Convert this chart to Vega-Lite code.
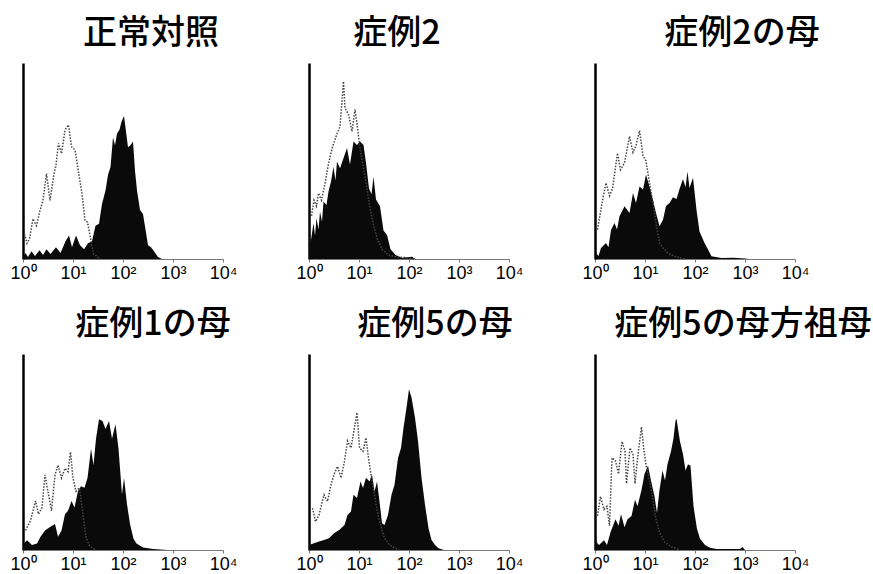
{
"$schema": "https://vega.github.io/schema/vega-lite/v6.json",
"padding": {"left": 9, "top": 17, "right": 5, "bottom": 5},
"background": "white",
"config": {
  "view": {"stroke": null},
  "font": "Liberation Sans",
  "title": {"font": "Noto Sans CJK JP", "fontSize": 34, "fontWeight": 500, "color": "#000", "anchor": "middle", "frame": "group", "offset": 12},
  "axisX": {"domainColor": "#777", "domainWidth": 1, "tickColor": "#777", "tickSize": 3, "labelFont": "Liberation Sans", "labelFontSize": 18, "labelColor": "#000", "labelPadding": 2, "grid": false, "title": null, "values": [0, 1, 2, 3, 4], "labelFlush": false, "labelExpr": "'10' + ['⁰','¹','²','³','⁴'][datum.value]"},
  "axisY": {"domainColor": "#000", "domainWidth": 2.5, "ticks": false, "labels": false, "grid": false, "title": null}
},
"datasets": {
"h": [
{"p":1,"s":"f","x":0,"y":1},{"p":1,"s":"f","x":0.05,"y":3},{"p":1,"s":"f","x":0.1,"y":1},{"p":1,"s":"f","x":0.17,"y":4},{"p":1,"s":"f","x":0.24,"y":1.5},{"p":1,"s":"f","x":0.33,"y":4.5},{"p":1,"s":"f","x":0.4,"y":2},{"p":1,"s":"f","x":0.47,"y":5},{"p":1,"s":"f","x":0.55,"y":2.5},{"p":1,"s":"f","x":0.66,"y":6},{"p":1,"s":"f","x":0.75,"y":3},{"p":1,"s":"f","x":0.85,"y":9},{"p":1,"s":"f","x":0.92,"y":12},{"p":1,"s":"f","x":0.98,"y":6},{"p":1,"s":"f","x":1.06,"y":12},{"p":1,"s":"f","x":1.14,"y":7},{"p":1,"s":"f","x":1.22,"y":5},{"p":1,"s":"f","x":1.3,"y":8},{"p":1,"s":"f","x":1.38,"y":9},{"p":1,"s":"f","x":1.45,"y":17},{"p":1,"s":"f","x":1.52,"y":18},{"p":1,"s":"f","x":1.58,"y":28},{"p":1,"s":"f","x":1.65,"y":35},{"p":1,"s":"f","x":1.7,"y":43},{"p":1,"s":"f","x":1.75,"y":47},{"p":1,"s":"f","x":1.8,"y":62},{"p":1,"s":"f","x":1.84,"y":58},{"p":1,"s":"f","x":1.88,"y":64},{"p":1,"s":"f","x":1.93,"y":66},{"p":1,"s":"f","x":1.97,"y":70},{"p":1,"s":"f","x":2.02,"y":73},{"p":1,"s":"f","x":2.06,"y":65},{"p":1,"s":"f","x":2.1,"y":57},{"p":1,"s":"f","x":2.15,"y":58},{"p":1,"s":"f","x":2.2,"y":60},{"p":1,"s":"f","x":2.24,"y":45},{"p":1,"s":"f","x":2.28,"y":35},{"p":1,"s":"f","x":2.34,"y":25},{"p":1,"s":"f","x":2.4,"y":23},{"p":1,"s":"f","x":2.45,"y":15},{"p":1,"s":"f","x":2.5,"y":7},{"p":1,"s":"f","x":2.56,"y":6},{"p":1,"s":"f","x":2.62,"y":4},{"p":1,"s":"f","x":2.7,"y":1},{"p":1,"s":"f","x":2.78,"y":0},
{"p":1,"s":"c","x":0.03,"y":12.8},{"p":1,"s":"c","x":0.08,"y":8},{"p":1,"s":"c","x":0.13,"y":10.3},{"p":1,"s":"c","x":0.2,"y":20.5},{"p":1,"s":"c","x":0.27,"y":17},{"p":1,"s":"c","x":0.34,"y":24.8},{"p":1,"s":"c","x":0.4,"y":30},{"p":1,"s":"c","x":0.47,"y":43.6},{"p":1,"s":"c","x":0.54,"y":29.9},{"p":1,"s":"c","x":0.61,"y":41.9},{"p":1,"s":"c","x":0.66,"y":48},{"p":1,"s":"c","x":0.71,"y":59},{"p":1,"s":"c","x":0.77,"y":53.8},{"p":1,"s":"c","x":0.84,"y":65.8},{"p":1,"s":"c","x":0.91,"y":68.4},{"p":1,"s":"c","x":0.97,"y":57.3},{"p":1,"s":"c","x":1.04,"y":55.6},{"p":1,"s":"c","x":1.11,"y":44.4},{"p":1,"s":"c","x":1.18,"y":33.3},{"p":1,"s":"c","x":1.24,"y":19.7},{"p":1,"s":"c","x":1.29,"y":18.8},{"p":1,"s":"c","x":1.34,"y":12},{"p":1,"s":"c","x":1.41,"y":2.6},{"p":1,"s":"c","x":1.55,"y":0},
{"p":2,"s":"f","x":0,"y":33},{"p":2,"s":"f","x":0.03,"y":8},{"p":2,"s":"f","x":0.09,"y":18.2},{"p":2,"s":"f","x":0.12,"y":12},{"p":2,"s":"f","x":0.15,"y":20.8},{"p":2,"s":"f","x":0.19,"y":15},{"p":2,"s":"f","x":0.22,"y":24.2},{"p":2,"s":"f","x":0.26,"y":19},{"p":2,"s":"f","x":0.29,"y":29.3},{"p":2,"s":"f","x":0.35,"y":27.6},{"p":2,"s":"f","x":0.39,"y":34.4},{"p":2,"s":"f","x":0.44,"y":39.5},{"p":2,"s":"f","x":0.49,"y":47.1},{"p":2,"s":"f","x":0.53,"y":40},{"p":2,"s":"f","x":0.56,"y":49.7},{"p":2,"s":"f","x":0.62,"y":46.3},{"p":2,"s":"f","x":0.69,"y":51.4},{"p":2,"s":"f","x":0.76,"y":56.6},{"p":2,"s":"f","x":0.82,"y":48.2},{"p":2,"s":"f","x":0.89,"y":59.9},{"p":2,"s":"f","x":0.96,"y":58.2},{"p":2,"s":"f","x":1.02,"y":59.9},{"p":2,"s":"f","x":1.09,"y":58.2},{"p":2,"s":"f","x":1.14,"y":49},{"p":2,"s":"f","x":1.2,"y":36},{"p":2,"s":"f","x":1.25,"y":33},{"p":2,"s":"f","x":1.29,"y":42},{"p":2,"s":"f","x":1.34,"y":30.3},{"p":2,"s":"f","x":1.42,"y":26.9},{"p":2,"s":"f","x":1.49,"y":14.6},{"p":2,"s":"f","x":1.56,"y":12.2},{"p":2,"s":"f","x":1.63,"y":5},{"p":2,"s":"f","x":1.73,"y":2},{"p":2,"s":"f","x":1.86,"y":0.7},{"p":2,"s":"f","x":2.06,"y":1.2},{"p":2,"s":"f","x":2.13,"y":0},
{"p":2,"s":"c","x":0.05,"y":22},{"p":2,"s":"c","x":0.1,"y":30},{"p":2,"s":"c","x":0.15,"y":27},{"p":2,"s":"c","x":0.19,"y":33.6},{"p":2,"s":"c","x":0.25,"y":30},{"p":2,"s":"c","x":0.32,"y":38.5},{"p":2,"s":"c","x":0.39,"y":48.6},{"p":2,"s":"c","x":0.47,"y":57.2},{"p":2,"s":"c","x":0.56,"y":64},{"p":2,"s":"c","x":0.62,"y":67.5},{"p":2,"s":"c","x":0.69,"y":90.6},{"p":2,"s":"c","x":0.72,"y":77},{"p":2,"s":"c","x":0.79,"y":73.8},{"p":2,"s":"c","x":0.86,"y":65},{"p":2,"s":"c","x":0.92,"y":76.3},{"p":2,"s":"c","x":0.96,"y":69},{"p":2,"s":"c","x":1.02,"y":56.6},{"p":2,"s":"c","x":1.09,"y":46.3},{"p":2,"s":"c","x":1.16,"y":36},{"p":2,"s":"c","x":1.22,"y":25.9},{"p":2,"s":"c","x":1.29,"y":17.4},{"p":2,"s":"c","x":1.36,"y":10.6},{"p":2,"s":"c","x":1.46,"y":5},{"p":2,"s":"c","x":1.59,"y":2},{"p":2,"s":"c","x":1.73,"y":1.2},{"p":2,"s":"c","x":1.93,"y":0.7},{"p":2,"s":"c","x":2.1,"y":0},
{"p":3,"s":"f","x":0.02,"y":3},{"p":3,"s":"f","x":0.07,"y":1.5},{"p":3,"s":"f","x":0.12,"y":5.6},{"p":3,"s":"f","x":0.22,"y":8.2},{"p":3,"s":"f","x":0.27,"y":6},{"p":3,"s":"f","x":0.32,"y":14.8},{"p":3,"s":"f","x":0.39,"y":18.4},{"p":3,"s":"f","x":0.44,"y":15},{"p":3,"s":"f","x":0.49,"y":21.8},{"p":3,"s":"f","x":0.59,"y":26.9},{"p":3,"s":"f","x":0.69,"y":23.5},{"p":3,"s":"f","x":0.76,"y":33.7},{"p":3,"s":"f","x":0.82,"y":28.6},{"p":3,"s":"f","x":0.89,"y":37},{"p":3,"s":"f","x":0.96,"y":35.4},{"p":3,"s":"f","x":1.02,"y":43},{"p":3,"s":"f","x":1.09,"y":37},{"p":3,"s":"f","x":1.16,"y":30},{"p":3,"s":"f","x":1.22,"y":23.5},{"p":3,"s":"f","x":1.29,"y":16.7},{"p":3,"s":"f","x":1.36,"y":20},{"p":3,"s":"f","x":1.42,"y":27},{"p":3,"s":"f","x":1.49,"y":28.6},{"p":3,"s":"f","x":1.56,"y":31.5},{"p":3,"s":"f","x":1.63,"y":30.6},{"p":3,"s":"f","x":1.69,"y":35.7},{"p":3,"s":"f","x":1.76,"y":40.8},{"p":3,"s":"f","x":1.81,"y":36.6},{"p":3,"s":"f","x":1.85,"y":44.6},{"p":3,"s":"f","x":1.89,"y":36.2},{"p":3,"s":"f","x":1.96,"y":41.5},{"p":3,"s":"f","x":2.03,"y":25},{"p":3,"s":"f","x":2.09,"y":14},{"p":3,"s":"f","x":2.19,"y":8.2},{"p":3,"s":"f","x":2.26,"y":4.8},{"p":3,"s":"f","x":2.33,"y":1.4},{"p":3,"s":"f","x":2.53,"y":0.5},{"p":3,"s":"f","x":2.77,"y":0.7},{"p":3,"s":"f","x":3.0,"y":0.3},{"p":3,"s":"f","x":3.08,"y":0},
{"p":3,"s":"c","x":0.05,"y":15},{"p":3,"s":"c","x":0.15,"y":30},{"p":3,"s":"c","x":0.22,"y":38.8},{"p":3,"s":"c","x":0.29,"y":32.3},{"p":3,"s":"c","x":0.35,"y":35.7},{"p":3,"s":"c","x":0.45,"y":54},{"p":3,"s":"c","x":0.51,"y":45.6},{"p":3,"s":"c","x":0.59,"y":49},{"p":3,"s":"c","x":0.69,"y":62.6},{"p":3,"s":"c","x":0.76,"y":54.4},{"p":3,"s":"c","x":0.82,"y":57.8},{"p":3,"s":"c","x":0.89,"y":65.5},{"p":3,"s":"c","x":0.96,"y":52.7},{"p":3,"s":"c","x":1.02,"y":50},{"p":3,"s":"c","x":1.09,"y":38.8},{"p":3,"s":"c","x":1.16,"y":28.6},{"p":3,"s":"c","x":1.22,"y":18.4},{"p":3,"s":"c","x":1.29,"y":8.2},{"p":3,"s":"c","x":1.36,"y":5.6},{"p":3,"s":"c","x":1.46,"y":3},{"p":3,"s":"c","x":1.59,"y":1.4},{"p":3,"s":"c","x":1.8,"y":0},
{"p":4,"s":"f","x":0,"y":4},{"p":4,"s":"f","x":0.02,"y":3.3},{"p":4,"s":"f","x":0.08,"y":5},{"p":4,"s":"f","x":0.18,"y":2.5},{"p":4,"s":"f","x":0.28,"y":3.3},{"p":4,"s":"f","x":0.35,"y":6.7},{"p":4,"s":"f","x":0.44,"y":10},{"p":4,"s":"f","x":0.54,"y":11.7},{"p":4,"s":"f","x":0.64,"y":13.3},{"p":4,"s":"f","x":0.7,"y":6.7},{"p":4,"s":"f","x":0.77,"y":10},{"p":4,"s":"f","x":0.84,"y":18.3},{"p":4,"s":"f","x":0.9,"y":20},{"p":4,"s":"f","x":0.97,"y":25},{"p":4,"s":"f","x":1.03,"y":21.7},{"p":4,"s":"f","x":1.1,"y":30},{"p":4,"s":"f","x":1.16,"y":32.5},{"p":4,"s":"f","x":1.23,"y":31.7},{"p":4,"s":"f","x":1.29,"y":36.7},{"p":4,"s":"f","x":1.36,"y":51.7},{"p":4,"s":"f","x":1.41,"y":43.3},{"p":4,"s":"f","x":1.46,"y":56.7},{"p":4,"s":"f","x":1.52,"y":66.7},{"p":4,"s":"f","x":1.59,"y":65.8},{"p":4,"s":"f","x":1.65,"y":61.7},{"p":4,"s":"f","x":1.72,"y":65.8},{"p":4,"s":"f","x":1.78,"y":56.7},{"p":4,"s":"f","x":1.85,"y":64.2},{"p":4,"s":"f","x":1.91,"y":51.7},{"p":4,"s":"f","x":1.98,"y":28.3},{"p":4,"s":"f","x":2.02,"y":36.7},{"p":4,"s":"f","x":2.08,"y":23.3},{"p":4,"s":"f","x":2.14,"y":13.3},{"p":4,"s":"f","x":2.21,"y":5.8},{"p":4,"s":"f","x":2.27,"y":3.3},{"p":4,"s":"f","x":2.4,"y":1.3},{"p":4,"s":"f","x":2.6,"y":0.5},{"p":4,"s":"f","x":2.9,"y":0},
{"p":4,"s":"c","x":0.05,"y":10},{"p":4,"s":"c","x":0.15,"y":15},{"p":4,"s":"c","x":0.25,"y":25},{"p":4,"s":"c","x":0.31,"y":18.3},{"p":4,"s":"c","x":0.38,"y":21.7},{"p":4,"s":"c","x":0.44,"y":38.3},{"p":4,"s":"c","x":0.51,"y":28.3},{"p":4,"s":"c","x":0.57,"y":20},{"p":4,"s":"c","x":0.64,"y":38.3},{"p":4,"s":"c","x":0.7,"y":43.3},{"p":4,"s":"c","x":0.77,"y":36.7},{"p":4,"s":"c","x":0.84,"y":41.7},{"p":4,"s":"c","x":0.9,"y":40},{"p":4,"s":"c","x":0.95,"y":50},{"p":4,"s":"c","x":1.0,"y":36.7},{"p":4,"s":"c","x":1.06,"y":30},{"p":4,"s":"c","x":1.13,"y":31.7},{"p":4,"s":"c","x":1.19,"y":20},{"p":4,"s":"c","x":1.26,"y":6.7},{"p":4,"s":"c","x":1.32,"y":2.5},{"p":4,"s":"c","x":1.45,"y":0},
{"p":5,"s":"f","x":0,"y":2.6},{"p":5,"s":"f","x":0.1,"y":3.4},{"p":5,"s":"f","x":0.2,"y":4.3},{"p":5,"s":"f","x":0.3,"y":5.1},{"p":5,"s":"f","x":0.4,"y":6},{"p":5,"s":"f","x":0.5,"y":8.5},{"p":5,"s":"f","x":0.61,"y":10.3},{"p":5,"s":"f","x":0.71,"y":12.8},{"p":5,"s":"f","x":0.77,"y":17.9},{"p":5,"s":"f","x":0.84,"y":19.7},{"p":5,"s":"f","x":0.89,"y":28.2},{"p":5,"s":"f","x":0.96,"y":26.5},{"p":5,"s":"f","x":1.03,"y":35},{"p":5,"s":"f","x":1.08,"y":31.6},{"p":5,"s":"f","x":1.14,"y":36.8},{"p":5,"s":"f","x":1.21,"y":35},{"p":5,"s":"f","x":1.26,"y":38.5},{"p":5,"s":"f","x":1.31,"y":29.9},{"p":5,"s":"f","x":1.36,"y":35},{"p":5,"s":"f","x":1.41,"y":24.8},{"p":5,"s":"f","x":1.46,"y":13.7},{"p":5,"s":"f","x":1.51,"y":12.8},{"p":5,"s":"f","x":1.58,"y":17.9},{"p":5,"s":"f","x":1.65,"y":28.2},{"p":5,"s":"f","x":1.71,"y":33.3},{"p":5,"s":"f","x":1.78,"y":47},{"p":5,"s":"f","x":1.84,"y":52.1},{"p":5,"s":"f","x":1.89,"y":62.4},{"p":5,"s":"f","x":1.95,"y":72.6},{"p":5,"s":"f","x":2.0,"y":82},{"p":5,"s":"f","x":2.05,"y":77.8},{"p":5,"s":"f","x":2.12,"y":67.5},{"p":5,"s":"f","x":2.18,"y":55.6},{"p":5,"s":"f","x":2.25,"y":36.8},{"p":5,"s":"f","x":2.32,"y":23.1},{"p":5,"s":"f","x":2.39,"y":11.1},{"p":5,"s":"f","x":2.45,"y":5.1},{"p":5,"s":"f","x":2.52,"y":2.6},{"p":5,"s":"f","x":2.59,"y":0.9},{"p":5,"s":"f","x":2.7,"y":0},
{"p":5,"s":"c","x":0.07,"y":21.4},{"p":5,"s":"c","x":0.13,"y":14.5},{"p":5,"s":"c","x":0.2,"y":17.9},{"p":5,"s":"c","x":0.3,"y":28.2},{"p":5,"s":"c","x":0.37,"y":24.8},{"p":5,"s":"c","x":0.44,"y":33.3},{"p":5,"s":"c","x":0.5,"y":38.5},{"p":5,"s":"c","x":0.57,"y":42.7},{"p":5,"s":"c","x":0.64,"y":36.8},{"p":5,"s":"c","x":0.71,"y":45.3},{"p":5,"s":"c","x":0.77,"y":55.6},{"p":5,"s":"c","x":0.84,"y":52.1},{"p":5,"s":"c","x":0.91,"y":62.4},{"p":5,"s":"c","x":0.96,"y":70.1},{"p":5,"s":"c","x":1.01,"y":52.1},{"p":5,"s":"c","x":1.08,"y":50.4},{"p":5,"s":"c","x":1.14,"y":57.3},{"p":5,"s":"c","x":1.19,"y":47},{"p":5,"s":"c","x":1.24,"y":38.5},{"p":5,"s":"c","x":1.31,"y":28.2},{"p":5,"s":"c","x":1.38,"y":17.9},{"p":5,"s":"c","x":1.45,"y":11.1},{"p":5,"s":"c","x":1.51,"y":6},{"p":5,"s":"c","x":1.61,"y":2.6},{"p":5,"s":"c","x":1.8,"y":0},
{"p":6,"s":"f","x":0,"y":16},{"p":6,"s":"f","x":0.03,"y":4},{"p":6,"s":"f","x":0.08,"y":2.5},{"p":6,"s":"f","x":0.18,"y":5},{"p":6,"s":"f","x":0.24,"y":2.5},{"p":6,"s":"f","x":0.31,"y":9.1},{"p":6,"s":"f","x":0.41,"y":15.7},{"p":6,"s":"f","x":0.47,"y":12.4},{"p":6,"s":"f","x":0.52,"y":18.2},{"p":6,"s":"f","x":0.59,"y":11.6},{"p":6,"s":"f","x":0.65,"y":15.7},{"p":6,"s":"f","x":0.73,"y":17.4},{"p":6,"s":"f","x":0.8,"y":25.6},{"p":6,"s":"f","x":0.85,"y":22.3},{"p":6,"s":"f","x":0.93,"y":30.6},{"p":6,"s":"f","x":0.99,"y":38.8},{"p":6,"s":"f","x":1.06,"y":43},{"p":6,"s":"f","x":1.12,"y":35.5},{"p":6,"s":"f","x":1.19,"y":27.3},{"p":6,"s":"f","x":1.24,"y":19},{"p":6,"s":"f","x":1.29,"y":30.6},{"p":6,"s":"f","x":1.35,"y":40.5},{"p":6,"s":"f","x":1.4,"y":35.5},{"p":6,"s":"f","x":1.45,"y":43.8},{"p":6,"s":"f","x":1.52,"y":50.4},{"p":6,"s":"f","x":1.57,"y":57},{"p":6,"s":"f","x":1.61,"y":66},{"p":6,"s":"f","x":1.63,"y":67},{"p":6,"s":"f","x":1.7,"y":55.4},{"p":6,"s":"f","x":1.76,"y":48.8},{"p":6,"s":"f","x":1.81,"y":40.5},{"p":6,"s":"f","x":1.86,"y":43.8},{"p":6,"s":"f","x":1.91,"y":43},{"p":6,"s":"f","x":1.97,"y":22.3},{"p":6,"s":"f","x":2.04,"y":10.7},{"p":6,"s":"f","x":2.1,"y":5.8},{"p":6,"s":"f","x":2.2,"y":2.5},{"p":6,"s":"f","x":2.3,"y":1.2},{"p":6,"s":"f","x":2.43,"y":0.5},{"p":6,"s":"f","x":2.9,"y":0.5},{"p":6,"s":"f","x":2.95,"y":1.5},{"p":6,"s":"f","x":3.0,"y":0},
{"p":6,"s":"c","x":0.05,"y":17.4},{"p":6,"s":"c","x":0.11,"y":27.3},{"p":6,"s":"c","x":0.18,"y":20.7},{"p":6,"s":"c","x":0.24,"y":22.3},{"p":6,"s":"c","x":0.29,"y":12.4},{"p":6,"s":"c","x":0.34,"y":47.1},{"p":6,"s":"c","x":0.41,"y":45.5},{"p":6,"s":"c","x":0.47,"y":38.8},{"p":6,"s":"c","x":0.54,"y":55.4},{"p":6,"s":"c","x":0.6,"y":50.4},{"p":6,"s":"c","x":0.63,"y":33.9},{"p":6,"s":"c","x":0.7,"y":52.1},{"p":6,"s":"c","x":0.76,"y":48.8},{"p":6,"s":"c","x":0.8,"y":33.9},{"p":6,"s":"c","x":0.86,"y":48.8},{"p":6,"s":"c","x":0.93,"y":62.8},{"p":6,"s":"c","x":0.98,"y":50.4},{"p":6,"s":"c","x":1.03,"y":42.1},{"p":6,"s":"c","x":1.09,"y":35.5},{"p":6,"s":"c","x":1.16,"y":25.6},{"p":6,"s":"c","x":1.22,"y":15.7},{"p":6,"s":"c","x":1.29,"y":9.1},{"p":6,"s":"c","x":1.39,"y":4.1},{"p":6,"s":"c","x":1.52,"y":1.7},{"p":6,"s":"c","x":1.7,"y":0}
]
},
"columns": 3,
"bounds": "flush",
"spacing": {"row": 95, "column": 86},
"concat": [
 {"title": {"text": "正常対照", "dx": 28}, "width": 200, "height": 196, "data": {"name": "h"}, "transform": [{"filter": "datum.p == 1"}],
  "layer": [
   {"transform": [{"filter": "datum.s == 'f'"}], "mark": {"type": "area", "color": "#0a0a0a", "interpolate": "linear"}, "encoding": {"x": {"field": "x", "type": "quantitative", "scale": {"domain": [0, 4]}}, "y": {"field": "y", "type": "quantitative", "scale": {"domain": [0, 100]}}}},
   {"transform": [{"filter": "datum.s == 'c'"}], "mark": {"type": "line", "color": "#444", "strokeWidth": 1.5, "strokeDash": [1.5, 1.5]}, "encoding": {"x": {"field": "x", "type": "quantitative"}, "y": {"field": "y", "type": "quantitative"}}}
  ]},
 {"title": {"text": "症例2", "dx": -12}, "width": 200, "height": 196, "data": {"name": "h"}, "transform": [{"filter": "datum.p == 2"}],
  "layer": [
   {"transform": [{"filter": "datum.s == 'f'"}], "mark": {"type": "area", "color": "#0a0a0a", "interpolate": "linear"}, "encoding": {"x": {"field": "x", "type": "quantitative", "scale": {"domain": [0, 4]}}, "y": {"field": "y", "type": "quantitative", "scale": {"domain": [0, 100]}}}},
   {"transform": [{"filter": "datum.s == 'c'"}], "mark": {"type": "line", "color": "#444", "strokeWidth": 1.5, "strokeDash": [1.5, 1.5]}, "encoding": {"x": {"field": "x", "type": "quantitative"}, "y": {"field": "y", "type": "quantitative"}}}
  ]},
 {"title": {"text": "症例2の母", "dx": 47}, "width": 200, "height": 196, "data": {"name": "h"}, "transform": [{"filter": "datum.p == 3"}],
  "layer": [
   {"transform": [{"filter": "datum.s == 'f'"}], "mark": {"type": "area", "color": "#0a0a0a", "interpolate": "linear"}, "encoding": {"x": {"field": "x", "type": "quantitative", "scale": {"domain": [0, 4]}}, "y": {"field": "y", "type": "quantitative", "scale": {"domain": [0, 100]}}}},
   {"transform": [{"filter": "datum.s == 'c'"}], "mark": {"type": "line", "color": "#444", "strokeWidth": 1.5, "strokeDash": [1.5, 1.5]}, "encoding": {"x": {"field": "x", "type": "quantitative"}, "y": {"field": "y", "type": "quantitative"}}}
  ]},
 {"title": {"text": "症例1の母", "dx": 30}, "width": 200, "height": 196, "data": {"name": "h"}, "transform": [{"filter": "datum.p == 4"}],
  "layer": [
   {"transform": [{"filter": "datum.s == 'f'"}], "mark": {"type": "area", "color": "#0a0a0a", "interpolate": "linear"}, "encoding": {"x": {"field": "x", "type": "quantitative", "scale": {"domain": [0, 4]}}, "y": {"field": "y", "type": "quantitative", "scale": {"domain": [0, 100]}}}},
   {"transform": [{"filter": "datum.s == 'c'"}], "mark": {"type": "line", "color": "#444", "strokeWidth": 1.5, "strokeDash": [1.5, 1.5]}, "encoding": {"x": {"field": "x", "type": "quantitative"}, "y": {"field": "y", "type": "quantitative"}}}
  ]},
 {"title": {"text": "症例5の母", "dx": 26}, "width": 200, "height": 196, "data": {"name": "h"}, "transform": [{"filter": "datum.p == 5"}],
  "layer": [
   {"transform": [{"filter": "datum.s == 'f'"}], "mark": {"type": "area", "color": "#0a0a0a", "interpolate": "linear"}, "encoding": {"x": {"field": "x", "type": "quantitative", "scale": {"domain": [0, 4]}}, "y": {"field": "y", "type": "quantitative", "scale": {"domain": [0, 100]}}}},
   {"transform": [{"filter": "datum.s == 'c'"}], "mark": {"type": "line", "color": "#444", "strokeWidth": 1.5, "strokeDash": [1.5, 1.5]}, "encoding": {"x": {"field": "x", "type": "quantitative"}, "y": {"field": "y", "type": "quantitative"}}}
  ]},
 {"title": {"text": "症例5の母方祖母", "dx": 48}, "width": 200, "height": 196, "data": {"name": "h"}, "transform": [{"filter": "datum.p == 6"}],
  "layer": [
   {"transform": [{"filter": "datum.s == 'f'"}], "mark": {"type": "area", "color": "#0a0a0a", "interpolate": "linear"}, "encoding": {"x": {"field": "x", "type": "quantitative", "scale": {"domain": [0, 4]}}, "y": {"field": "y", "type": "quantitative", "scale": {"domain": [0, 100]}}}},
   {"transform": [{"filter": "datum.s == 'c'"}], "mark": {"type": "line", "color": "#444", "strokeWidth": 1.5, "strokeDash": [1.5, 1.5]}, "encoding": {"x": {"field": "x", "type": "quantitative"}, "y": {"field": "y", "type": "quantitative"}}}
  ]}
]
}
